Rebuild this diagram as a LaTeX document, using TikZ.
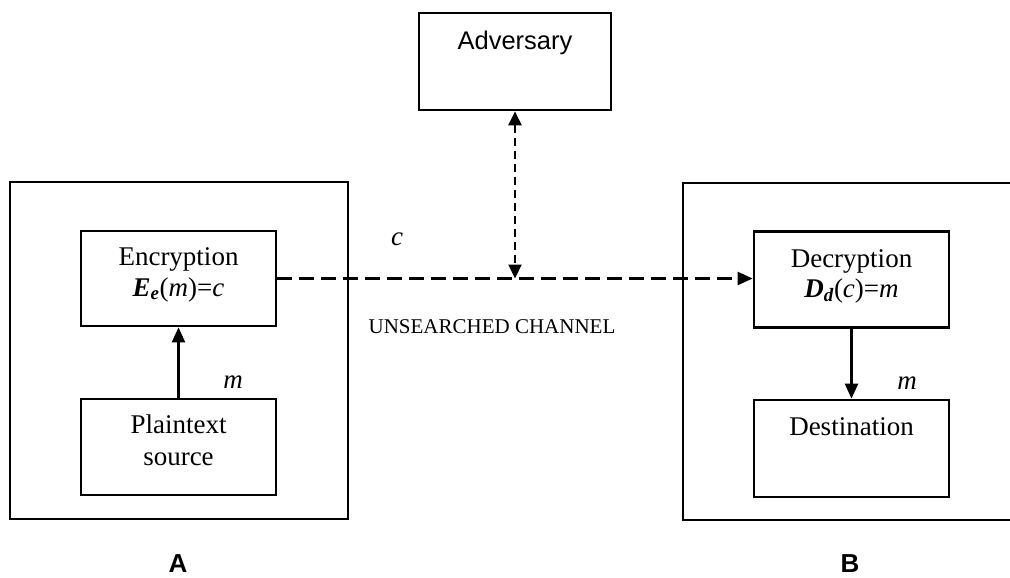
\documentclass[tikz,border=0pt]{standalone}
\usepackage{fontspec}
\setmainfont{Liberation Serif}
\newfontfamily\headfont{Liberation Sans}
\usetikzlibrary{arrows.meta}
\newcommand{\bi}[1]{\textbf{\textit{#1}}}
\begin{document}
\begin{tikzpicture}[x=1pt,y=-1pt,
  frame/.style={draw, line width=2.4pt, inner sep=0pt, minimum width=#1, minimum height=337pt},
  box/.style={draw, line width=2.7pt, inner sep=0pt, minimum width=195pt, minimum height=96pt},
  txt/.style={font=\fontsize{27}{30}\selectfont, inner sep=0pt, anchor=base},
  sans/.style={font=\headfont\fontsize{25.5}{30}\selectfont, inner sep=0pt, anchor=base},
  flow/.style={line width=2.3pt, -{Triangle[length=15pt,width=13pt]}},
  channel/.style={line width=2.4pt, dash pattern=on 15pt off 7pt, -{Triangle[length=15pt,width=13pt]}},
  tap/.style={line width=2.2pt, dash pattern=on 8pt off 5pt,
    {Triangle[length=14pt,width=13pt]}-{Triangle[length=14pt,width=13pt]}}
]
\useasboundingbox (0,0) rectangle (1010,578);

% party frames
\node[frame=338pt] (partyA) at (179,350.5) {};
\node[frame=347pt] (partyB) at (856.5,351.5) {};

% boxes
\node[box, minimum height=95pt] (enc) at (178.5,278.5) {};
\node[box] (src) at (178.5,447) {};
\node[box] (dec) at (851.5,279.5) {};
\node[box, minimum height=97pt] (dest) at (851.5,448.5) {};
\node[box, minimum width=192pt, minimum height=97pt] (adv) at (515,61.5) {};

% box texts
\node[txt] (encT) at (178.5,265.5) {Encryption};
\node[txt] (encF) at (178.5,296) {\bi{E}\textsubscript{\bi{e}}(\textit{m})=\textit{c}};
\node[txt] (srcT) at (178.5,433) {Plaintext};
\node[txt] (srcS) at (178.5,465) {source};
\node[txt] (decT) at (851.5,267) {Decryption};
\node[txt] (decF) at (851.5,297) {\bi{D}\textsubscript{\bi{d}}(\textit{c})=\textit{m}};
\node[txt] (destT) at (851.5,435) {Destination};
\node[sans] (advT) at (515,50) {Adversary};

% connectors
\draw[flow] (src) -- (enc);
\draw[flow] (dec) -- (dest);
\draw[channel] (enc.east) -- (enc.east -| dec.west);
\coordinate (tapC) at (adv.south |- enc.east);
\draw[tap] (adv.south) -- (tapC);

% labels
\node[txt] (mA) at (233,388) {\textit{m}};
\node[txt] (mB) at (907,389) {\textit{m}};
\node[txt] (cLab) at (397,245) {\textit{c}};
\node[txt, font=\fontsize{21}{24}\selectfont] (chan) at (492,333) {UNSEARCHED CHANNEL};
\node[sans, font=\headfont\bfseries\fontsize{26}{30}\selectfont] (labA) at (178,572) {A};
\node[sans, font=\headfont\bfseries\fontsize{26}{30}\selectfont] (labB) at (850,572) {B};
\end{tikzpicture}
\end{document}
